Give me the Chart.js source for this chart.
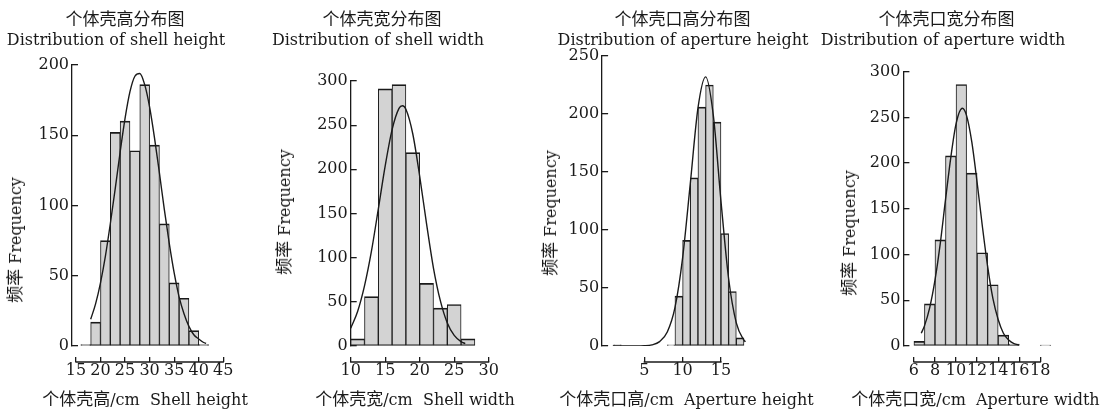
<!DOCTYPE html>
<html>
<head>
<meta charset="utf-8">
<script src="https://cdn.jsdelivr.net/npm/chart.js@4.4.1/dist/chart.umd.min.js"></script>
<style>
  body { margin: 0; background: #fff; }
  #fig { position: relative; width: 1109px; height: 417px; overflow: hidden;
         font-family: 'DejaVu Serif', 'Noto Sans CJK SC', serif; color: #1a1a1a; }
  #fig canvas { position: absolute; top: 0; }
  .lbl { position: absolute; white-space: nowrap; font-size: 16px; line-height: 20px;
         transform: translate(-50%, -50%); }
  .cn { font-family: 'Noto Sans CJK SC', sans-serif; font-size: 17px; }
  .rot { transform: translate(-50%, -50%) rotate(-90deg); }
</style>
</head>
<body>
<div id="fig">
  <canvas id="c1" width="255" height="417" style="left:0px"></canvas>
  <canvas id="c2" width="265" height="417" style="left:255px"></canvas>
  <canvas id="c3" width="285" height="417" style="left:520px"></canvas>
  <canvas id="c4" width="304" height="417" style="left:805px"></canvas>

  <!-- panel headers -->
  <div class="lbl cn" style="left:125px;top:18px">个体壳高分布图</div>
  <div class="lbl" style="left:116px;top:39.5px">Distribution of shell height</div>
  <div class="lbl cn" style="left:382px;top:18px">个体壳宽分布图</div>
  <div class="lbl" style="left:378px;top:39.5px">Distribution of shell width</div>
  <div class="lbl cn" style="left:682.5px;top:18px">个体壳口高分布图</div>
  <div class="lbl" style="left:683px;top:39.5px">Distribution of aperture height</div>
  <div class="lbl cn" style="left:946.5px;top:18px">个体壳口宽分布图</div>
  <div class="lbl" style="left:943px;top:39.5px">Distribution of aperture width</div>

  <!-- axis titles -->
  <div class="lbl rot" style="left:15px;top:240px"><span class="cn">频率</span> Frequency</div>
  <div class="lbl rot" style="left:283.5px;top:212px"><span class="cn">频率</span> Frequency</div>
  <div class="lbl rot" style="left:550px;top:213px"><span class="cn">频率</span> Frequency</div>
  <div class="lbl rot" style="left:849px;top:232.5px"><span class="cn">频率</span> Frequency</div>

  <div class="lbl" style="left:145px;top:399px"><span class="cn">个体壳高</span>/cm&nbsp; Shell height</div>
  <div class="lbl" style="left:415px;top:399px"><span class="cn">个体壳宽</span>/cm&nbsp; Shell width</div>
  <div class="lbl" style="left:686.5px;top:399px"><span class="cn">个体壳口高</span>/cm&nbsp; Aperture height</div>
  <div class="lbl" style="left:975.5px;top:399px"><span class="cn">个体壳口宽</span>/cm&nbsp; Aperture width</div>
</div>

<script>
// shell height (bins of 2 cm, centres)
const shellHeightBins = [17, 19, 21, 23, 25, 27, 29, 31, 33, 35, 37, 39, 41];
const shellHeightCounts = [1, 17, 75, 152, 160, 139, 186, 143, 87, 45, 34, 11, 1];
const shellHeightCurveX = [18, 19, 20, 21, 22, 23, 24, 25, 26, 27, 28, 29, 30, 31, 32, 33, 34, 35, 36, 37, 38, 39, 40, 41, 41.5];
const shellHeightCurveY = [19, 30, 45, 64, 87, 112, 138, 162, 181, 192, 194, 186, 170, 148, 123, 97, 73, 52, 35, 23, 14, 8, 5, 2.5, 1.8];
const shellHeightTicks = [15, 20, 25, 30, 35, 40, 45];

// shell width
const shellWidthBins = [11, 13, 15, 17, 19, 21, 23, 25, 27];
const shellWidthCounts = [8, 56, 291, 296, 219, 71, 43, 47, 8];
const shellWidthCurveX = [10, 11, 12, 13, 14, 15, 16, 17, 17.5, 18, 19, 20, 21, 22, 23, 24, 25, 26, 26.6];
const shellWidthCurveY = [20, 39, 68, 107, 155, 204, 245, 269, 272, 268, 240, 192, 138, 88, 51, 26, 12, 5, 2.7];
const shellWidthTicks = [10, 15, 20, 25, 30];

// aperture height (bins of 1 cm)
const apHeightBins = [1.5, 8.5, 9.5, 10.5, 11.5, 12.5, 13.5, 14.5, 15.5, 16.5, 17.5];
const apHeightCounts = [1, 1, 43, 91, 145, 206, 225, 193, 97, 47, 7];
const apHeightCurveX = [0.9, 2, 3, 4, 5, 6, 7, 8, 9, 10, 11, 12, 13, 14, 15, 16, 17, 18, 18.2];
const apHeightCurveY = [0, 0, 0, 0, 0.2, 1, 3.8, 12, 33, 76, 140, 205, 232, 199, 125, 58, 20, 5, 3.6];
const apHeightTicks = [5, 10, 15];

// aperture width
const apWidthBins = [6.5, 7.5, 8.5, 9.5, 10.5, 11.5, 12.5, 13.5, 14.5, 15.5, 16.5, 17.5, 18.5];
const apWidthCounts = [5, 46, 116, 208, 286, 189, 102, 67, 12, 2, 0, 0, 1];
const apWidthCurveX = [6.7, 7, 7.5, 8, 8.5, 9, 9.5, 10, 10.6, 11, 11.5, 12, 12.5, 13, 13.5, 14, 14.5, 15, 15.5, 16];
const apWidthCurveY = [14, 22, 42, 72, 112, 160, 206, 243, 260, 252, 223, 179, 131, 87, 52, 29, 14, 6.5, 2.7, 1];
const apWidthTicks = [6, 8, 10, 12, 14, 16, 18];

const ink = '#1a1a1a';
const tickFont = { family: "'DejaVu Serif', serif", size: 16 };

// x axis line only runs between the first and last tick, like the original
const tickBaseline = {
  id: 'tickBaseline',
  afterDraw(chart) {
    const x = chart.scales.x;
    const t = x.ticks;
    const ctx = chart.ctx;
    ctx.save();
    ctx.strokeStyle = ink;
    ctx.lineWidth = 1.3;
    ctx.beginPath();
    ctx.moveTo(x.getPixelForValue(t[0].value) - 0.6, x.top);
    ctx.lineTo(x.getPixelForValue(t[t.length - 1].value) + 0.6, x.top);
    ctx.stroke();
    ctx.restore();
  }
};

function histChart(id, bins, counts, curveX, curveY, xTicks, o) {
  return new Chart(document.getElementById(id), {
    type: 'bar',
    data: {
      datasets: [{
        type: 'line',
        data: curveX.map((x, i) => ({ x, y: curveY[i] })),
        borderColor: ink,
        borderWidth: 1.4,
        pointRadius: 0,
        cubicInterpolationMode: 'monotone',
        order: 0
      }, {
        data: bins.map((x, i) => ({ x, y: counts[i] })),
        backgroundColor: '#d3d3d3',
        borderColor: ink,
        borderWidth: { top: 1.7, left: 1, right: 1, bottom: 1.2 },
        borderSkipped: false,
        barPercentage: 1,
        categoryPercentage: 1,
        order: 1
      }]
    },
    options: {
      responsive: false,
      animation: false,
      layout: { padding: { top: o.top, right: o.right, left: 0, bottom: 0 } },
      plugins: { legend: { display: false }, tooltip: { enabled: false } },
      scales: {
        x: {
          type: 'linear', min: o.xMin, max: o.xMax, offset: false, weight: 1,
          border: { display: false },
          grid: { offset: false, drawOnChartArea: false, tickLength: -5, color: ink, lineWidth: 1.3 },
          ticks: { autoSkip: false, maxRotation: 0, padding: 4, font: tickFont, color: ink },
          afterBuildTicks: s => { s.ticks = xTicks.map(v => ({ value: v })); },
          afterFit: s => { s.height = 55; }
        },
        gap: {
          type: 'linear', position: 'bottom', weight: 0,
          grid: { display: false }, border: { display: false }, ticks: { display: false },
          afterFit: s => { s.height = 16; }
        },
        y: {
          min: 0, max: o.yMax,
          border: { color: ink, width: 1.3 },
          grid: { drawOnChartArea: false, tickLength: -6, color: ink, lineWidth: 1.3 },
          ticks: { stepSize: 50, padding: 9, font: tickFont, color: ink },
          afterFit: s => { s.width = o.yWidth; }
        }
      }
    },
    plugins: [tickBaseline]
  });
}

histChart('c1', shellHeightBins, shellHeightCounts, shellHeightCurveX, shellHeightCurveY, shellHeightTicks,
  { xMin: 14.2, xMax: 45, yMax: 200, top: 65, right: 31.7, yWidth: 72 });
histChart('c2', shellWidthBins, shellWidthCounts, shellWidthCurveX, shellWidthCurveY, shellWidthTicks,
  { xMin: 10, xMax: 30, yMax: 300, top: 81, right: 31.3, yWidth: 95.7 });
histChart('c3', apHeightBins, apHeightCounts, apHeightCurveX, apHeightCurveY, apHeightTicks,
  { xMin: -0.5, xMax: 18.5, yMax: 250, top: 56, right: 57.2, yWidth: 82.1 });
histChart('c4', apWidthBins, apWidthCounts, apWidthCurveX, apWidthCurveY, apWidthTicks,
  { xMin: 5, xMax: 19.2, yMax: 300, top: 71.7, right: 56.1, yWidth: 98.4 });
</script>
</body>
</html>
